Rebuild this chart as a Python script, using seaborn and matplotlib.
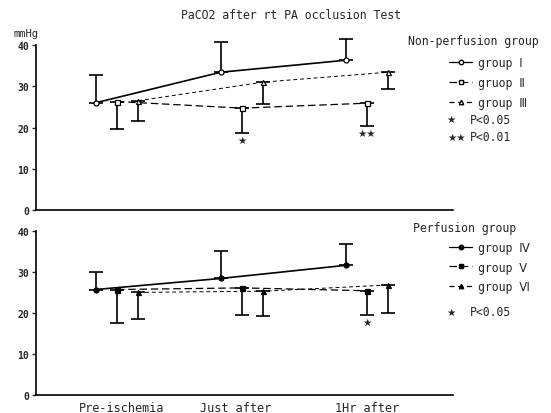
import numpy as np
import pandas as pd
import matplotlib
matplotlib.use("Agg")
import matplotlib.pyplot as plt
import seaborn as sns
from matplotlib.lines import Line2D

sns.set_theme(style="white")
plt.rcParams['font.family'] = ['DejaVu Sans Mono', 'DejaVu Sans']

# ---------------- data ----------------
categories = ["Pre-ischemia", "Just after", "1Hr after"]

# Non-perfusion group (top panel)
top_groups = ["group Ⅰ", "gruop Ⅱ", "group Ⅲ"]
top_means = {
    "group Ⅰ": [26.0, 33.4, 36.3],
    "gruop Ⅱ": [26.3, 24.7, 25.9],
    "group Ⅲ": [26.5, 31.0, 33.4],
}
top_err = {   # one-sided SD (up for Ⅰ, down for Ⅱ/Ⅲ)
    "group Ⅰ": [6.7, 7.4, 5.2],
    "gruop Ⅱ": [6.6, 6.0, 5.5],
    "group Ⅲ": [5.0, 5.2, 4.0],
}
top_dir = {"group Ⅰ": 1, "gruop Ⅱ": -1, "group Ⅲ": -1}

# Perfusion group (bottom panel)
bot_groups = ["group Ⅳ", "group Ⅴ", "group Ⅵ"]
bot_means = {
    "group Ⅳ": [25.7, 28.4, 31.6],
    "group Ⅴ": [25.7, 26.1, 25.4],
    "group Ⅵ": [25.0, 25.3, 26.8],
}
bot_err = {
    "group Ⅳ": [4.2, 6.6, 5.2],
    "group Ⅴ": [8.2, 6.6, 5.9],
    "group Ⅵ": [6.5, 6.0, 6.9],
}
bot_dir = {"group Ⅳ": 1, "group Ⅴ": -1, "group Ⅵ": -1}

# significance marks: (group, category index, y value, text)
top_sig = [("gruop Ⅱ", 1, 17.0, "★"), ("gruop Ⅱ", 2, 18.6, "★★")]
bot_sig = [("group Ⅴ", 2, 17.9, "★")]

yticks = [0, 10, 20, 30, 40]

# ---------------- styling ----------------
offsets = [-0.17, 0.0, 0.17]
top_style = {
    "group Ⅰ": dict(marker="o", mfc="white", ls="-"),
    "gruop Ⅱ": dict(marker="s", mfc="white", ls=(0, (6, 3))),
    "group Ⅲ": dict(marker="^", mfc="white", ls=(0, (4, 3))),
}
bot_style = {
    "group Ⅳ": dict(marker="o", mfc="black", ls="-"),
    "group Ⅴ": dict(marker="s", mfc="black", ls=(0, (6, 3))),
    "group Ⅵ": dict(marker="^", mfc="black", ls=(0, (4, 3))),
}
lw_map = {0: 1.2, 1: 0.9, 2: 0.7}

fig = plt.figure(figsize=(5.51, 4.14), dpi=100)
ax_top = fig.add_axes([0.0653, 0.490, 0.757, 0.399])
ax_bot = fig.add_axes([0.0653, 0.0435, 0.757, 0.3965])


def draw_panel(ax, groups, means, errs, dirs, styles, sigs):
    rows = []
    for gi, g in enumerate(groups):
        for ci, c in enumerate(categories):
            rows.append(dict(group=g, cat=c, x=ci + offsets[gi], y=means[g][ci],
                             err=errs[g][ci], d=dirs[g]))
    df = pd.DataFrame(rows)
    handles = []
    for gi, g in enumerate(groups):
        sub = df[df.group == g]
        st = styles[g]
        sns.lineplot(data=sub, x="x", y="y", ax=ax, color="black",
                     marker=st["marker"], markersize=3.6,
                     markerfacecolor=st["mfc"], markeredgecolor="black",
                     markeredgewidth=0.9, linestyle=st["ls"],
                     linewidth=lw_map[gi], sort=False, zorder=3)
        lower = np.where(sub.d < 0, sub.err, 0)
        upper = np.where(sub.d > 0, sub.err, 0)
        ax.errorbar(sub.x, sub.y, yerr=[lower, upper], fmt="none",
                    ecolor="black", elinewidth=1.2, capsize=5,
                    capthick=1.2, zorder=2, clip_on=False)
        handles.append(Line2D([], [], color="black", marker=st["marker"],
                              markersize=3.2, markerfacecolor=st["mfc"],
                              markeredgecolor="black", linestyle=st["ls"],
                              linewidth=0.9))
    for g, ci, yv, txt in sigs:
        gi = groups.index(g)
        ax.text(ci + offsets[gi], yv, txt, ha="center", va="center",
                fontsize=7.5, family=["DejaVu Sans"])
    ax.set_xlim(-0.648, 2.688)
    ax.set_ylim(0, 40)
    ax.set_yticks(yticks)
    ax.set_yticklabels([str(t) for t in yticks], fontsize=7, fontweight="bold")
    ax.tick_params(axis="y", direction="out", length=3, width=1, pad=2, left=True)
    ax.tick_params(axis="x", length=0)
    ax.set_xlabel("")
    ax.set_ylabel("")
    for s in ["top", "right"]:
        ax.spines[s].set_visible(False)
    for s in ["left", "bottom"]:
        ax.spines[s].set_color("black")
        ax.spines[s].set_linewidth(1.2)
    ax.set_facecolor("white")
    return handles


h_top = draw_panel(ax_top, top_groups, top_means, top_err, top_dir, top_style, top_sig)
h_bot = draw_panel(ax_bot, bot_groups, bot_means, bot_err, bot_dir, bot_style, bot_sig)

ax_top.set_xticks([])
ax_bot.set_xticks([0.04, 0.95, 2.0])
ax_bot.set_xticklabels(categories, fontsize=8.5)
ax_bot.tick_params(axis="x", pad=4)

fig.text(0.528, 0.963, "PaCO2 after rt PA occlusion Test", ha="center",
         va="center", fontsize=8.3)
fig.text(0.025, 0.917, "mmHg", ha="left", va="center", fontsize=7.5)

# legends
fig.text(0.740, 0.899, "Non-perfusion group", ha="left", va="center", fontsize=8.3)
leg1 = fig.legend(h_top, top_groups, loc="upper left",
                  bbox_to_anchor=(0.815, 0.862), frameon=False, fontsize=8.3,
                  handlelength=2.0, handletextpad=0.5, labelspacing=0.6,
                  borderaxespad=0, borderpad=0)
fig.text(0.818, 0.710, "★", ha="center", va="center", fontsize=7.5,
         family=["DejaVu Sans"])
fig.text(0.852, 0.710, "P<0.05", ha="left", va="center", fontsize=8.3)
fig.text(0.829, 0.667, "★★", ha="center", va="center", fontsize=7.5,
         family=["DejaVu Sans"])
fig.text(0.852, 0.667, "P<0.01", ha="left", va="center", fontsize=8.3)

fig.text(0.750, 0.449, "Perfusion group", ha="left", va="center", fontsize=8.3)
leg2 = fig.legend(h_bot, bot_groups, loc="upper left",
                  bbox_to_anchor=(0.815, 0.415), frameon=False, fontsize=8.3,
                  handlelength=2.0, handletextpad=0.5, labelspacing=0.55,
                  borderaxespad=0, borderpad=0)
fig.text(0.818, 0.244, "★", ha="center", va="center", fontsize=7.5,
         family=["DejaVu Sans"])
fig.text(0.852, 0.244, "P<0.05", ha="left", va="center", fontsize=8.3)

fig.savefig("out.png", dpi=100, facecolor="white")
